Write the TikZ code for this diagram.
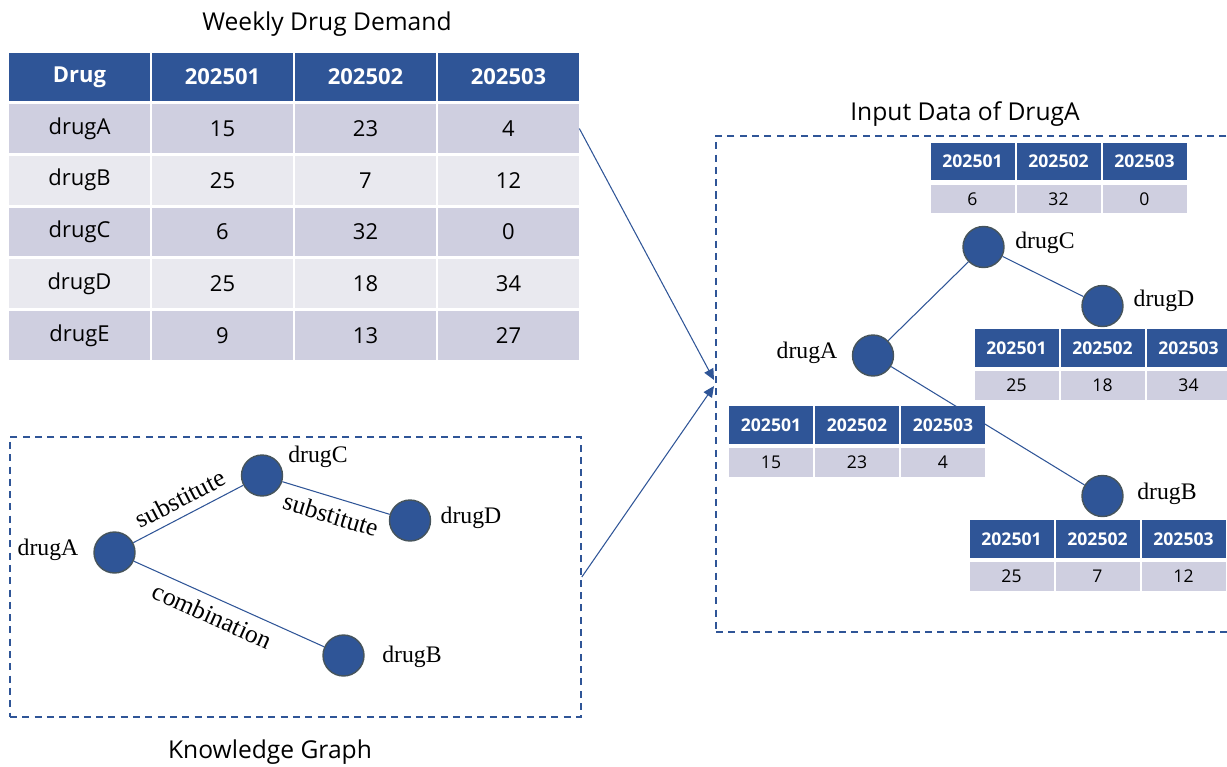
\documentclass[tikz,border=0pt]{standalone}
\usepackage{fontspec}
\setmainfont{Open Sans}
\newfontfamily\timesfont{Liberation Serif}
\usetikzlibrary{arrows.meta}

\definecolor{hdblue}{RGB}{47,85,151}
\definecolor{rowdark}{RGB}{207,207,224}
\definecolor{rowlight}{RGB}{233,233,239}
\definecolor{ringgray}{RGB}{70,84,92}

\begin{document}
\begin{tikzpicture}[x = 0.02cm, y = -0.02cm,
    hcell/.style = {rectangle, fill = hdblue, text = white, inner sep = 0pt,
                    minimum width = 2.82cm, minimum height = 0.96cm,
                    font = \fontsize{12.5}{14}\selectfont\bfseries},
    oddrow/.style = {rectangle, fill = rowdark, inner sep = 0pt,
                     minimum width = 2.82cm, minimum height = 0.98cm,
                     font = \fontsize{12.5}{14}\selectfont},
    evenrow/.style = {oddrow, fill = rowlight},
    shead/.style = {hcell, minimum width = 1.68cm, minimum height = 0.76cm,
                    font = \fontsize{10}{12}\selectfont\bfseries},
    sval/.style = {oddrow, minimum width = 1.68cm, minimum height = 0.58cm,
                   font = \fontsize{10}{12}\selectfont},
    drug/.style = {circle, draw = ringgray, line width = 0.8pt, fill = hdblue,
                   minimum size = 0.82cm, inner sep = 0pt},
    drugname/.style = {font = \timesfont\fontsize{13.5}{15}\selectfont},
    relation/.style = {font = \timesfont\fontsize{14.5}{16}\selectfont, inner sep = 4.5pt},
    link/.style = {draw = hdblue, line width = 0.6pt},
    dashframe/.style = {draw = hdblue, line width = 1pt, dash pattern = on 4pt off 3pt},
    heading/.style = {font = \fontsize{14}{17}\selectfont}]

      \useasboundingbox (0, 0) rectangle (1227, 767);

      % weekly demand table
      \node [heading] (demandtitle) at (327, 24) {Weekly Drug Demand};
      \node [hcell] (hd1) at (79.5, 77) {Drug};
      \node [hcell] (hd2) at (222.5, 77) {202501};
      \node [hcell] (hd3) at (365.5, 77) {202502};
      \node [hcell] (hd4) at (508.5, 77) {202503};
      \foreach \s/\d/\a/\b/\c [count = \i] in {oddrow/drugA/15/23/4, evenrow/drugB/25/7/12,
                                              oddrow/drugC/6/32/0, evenrow/drugD/25/18/34,
                                              oddrow/drugE/9/13/27} {
        \node [\s] (row\i-1) at (79.5, 76.75 + 51.75*\i) {\d};
        \node [\s] (row\i-2) at (222.5, 76.75 + 51.75*\i) {\a};
        \node [\s] (row\i-3) at (365.5, 76.75 + 51.75*\i) {\b};
        \node [\s] (row\i-4) at (508.5, 76.75 + 51.75*\i) {\c};
      }

      % knowledge graph
      \node [dashframe, minimum width = 11.42cm, minimum height = 5.6cm] (kg) at (295.5, 577) {};
      \node [heading] (kgtitle) at (270, 752) {Knowledge Graph};
      \node [drug] (kA) at (114.5, 552.5) {};
      \node [drug] (kC) at (262, 475.5) {};
      \node [drug] (kD) at (410, 520.5) {};
      \node [drug] (kB) at (343.5, 655.5) {};
      \node [drugname] (kAname) at (48, 550) {drugA};
      \node [drugname] (kCname) at (318, 457) {drugC};
      \node [drugname] (kDname) at (471, 518) {drugD};
      \node [drugname] (kBname) at (412, 657) {drugB};

      \draw [link] (kA) -- node [relation, above, sloped] {substitute} (kC);
      \draw [link] (kC) -- node [relation, below, sloped] {substitute} (kD);
      \draw [link] (kA) -- node [relation, below, sloped, pos = 0.45] {combination} (kB);

      % input data of drugA
      \node [dashframe, minimum width = 10.6cm, minimum height = 9.92cm] (inbox) at (981, 384) {};
      \node [heading] (intitle) at (965, 114) {Input Data of DrugA};
      \coordinate (inTop) at (714, 380);
      \coordinate (inBot) at (714, 386);

      \node [drug] (rA) at (873, 355.5) {};
      \node [drug] (rC) at (983.5, 247) {};
      \node [drug] (rD) at (1102.5, 306) {};
      \node [drug] (rB) at (1102.5, 496) {};
      \node [drugname] (rAname) at (807, 353) {drugA};
      \node [drugname] (rCname) at (1045, 243) {drugC};
      \node [drugname] (rDname) at (1164, 301) {drugD};
      \node [drugname] (rBname) at (1167, 494) {drugB};

      \draw [link] (rA) -- (rC);
      \draw [link] (rC) -- (rD);
      \draw [link] (rA) -- (rB);

      % demand rows next to each drug
      \foreach \t/\x/\y/\a/\b/\c in {C/972.5/161.5/6/32/0, D/1016.5/348/25/18/34,
                                    A/771/425/15/23/4, B/1011.5/539/25/7/12} {
        \node [shead] (t\t h1) at (\x, \y) {202501};
        \node [shead] (t\t h2) at (\x + 86, \y) {202502};
        \node [shead] (t\t h3) at (\x + 172, \y) {202503};
        \node [sval] (t\t v1) at (\x, \y + 37.5) {\a};
        \node [sval] (t\t v2) at (\x + 86, \y + 37.5) {\b};
        \node [sval] (t\t v3) at (\x + 172, \y + 37.5) {\c};
      }

      \draw [link, -{Triangle[length = 0.22cm, width = 0.2cm]}] (row1-4.east) -- (inTop);
      \draw [link, -{Triangle[length = 0.22cm, width = 0.2cm]}] (kg.east) -- (inBot);

\end{tikzpicture}
\end{document}
